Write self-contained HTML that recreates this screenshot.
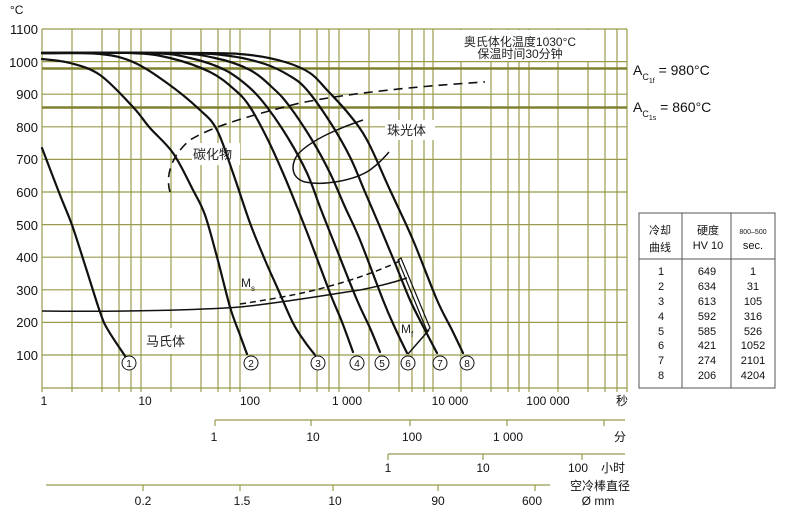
<!DOCTYPE html>
<html><head><meta charset="utf-8"><style>
html,body{margin:0;padding:0;background:#fff;}
svg{display:block;font-family:"Liberation Sans","Noto Sans CJK SC",sans-serif;}
</style></head><body>
<svg width="803" height="512" viewBox="0 0 803 512" xmlns="http://www.w3.org/2000/svg">
<g stroke="#999a4c" stroke-width="1.2">
<line x1="42" y1="29" x2="627" y2="29"/>
<line x1="42" y1="61.6" x2="627" y2="61.6"/>
<line x1="42" y1="94.2" x2="627" y2="94.2"/>
<line x1="42" y1="126.8" x2="627" y2="126.8"/>
<line x1="42" y1="159.4" x2="627" y2="159.4"/>
<line x1="42" y1="192" x2="627" y2="192"/>
<line x1="42" y1="224.6" x2="627" y2="224.6"/>
<line x1="42" y1="257.2" x2="627" y2="257.2"/>
<line x1="42" y1="289.8" x2="627" y2="289.8"/>
<line x1="42" y1="322.4" x2="627" y2="322.4"/>
<line x1="42" y1="355" x2="627" y2="355"/>
<line x1="42" y1="388" x2="627" y2="388"/>
<line x1="42" y1="29" x2="42" y2="392"/><line x1="72" y1="29" x2="72" y2="392"/><line x1="102" y1="29" x2="102" y2="392"/><line x1="119" y1="29" x2="119" y2="392"/><line x1="131" y1="29" x2="131" y2="392"/>
<line x1="141" y1="29" x2="141" y2="392"/><line x1="171" y1="29" x2="171" y2="392"/><line x1="201" y1="29" x2="201" y2="392"/><line x1="218" y1="29" x2="218" y2="392"/><line x1="230" y1="29" x2="230" y2="392"/>
<line x1="240" y1="29" x2="240" y2="392"/><line x1="270" y1="29" x2="270" y2="392"/><line x1="300" y1="29" x2="300" y2="392"/><line x1="317" y1="29" x2="317" y2="392"/><line x1="329" y1="29" x2="329" y2="392"/>
<line x1="339" y1="29" x2="339" y2="392"/><line x1="369" y1="29" x2="369" y2="392"/><line x1="399" y1="29" x2="399" y2="392"/><line x1="412" y1="29" x2="412" y2="392"/><line x1="424" y1="29" x2="424" y2="392"/>
<line x1="433" y1="29" x2="433" y2="392"/><line x1="461" y1="29" x2="461" y2="392"/><line x1="491" y1="29" x2="491" y2="392"/><line x1="508" y1="29" x2="508" y2="392"/><line x1="519" y1="29" x2="519" y2="392"/>
<line x1="529" y1="29" x2="529" y2="392"/><line x1="558" y1="29" x2="558" y2="392"/><line x1="588" y1="29" x2="588" y2="392"/><line x1="605" y1="29" x2="605" y2="392"/><line x1="617" y1="29" x2="617" y2="392"/><line x1="627" y1="29" x2="627" y2="392"/>
</g>
<g stroke="#7f8030" stroke-width="2.6">
<line x1="42" y1="68.5" x2="627" y2="68.5"/>
<line x1="42" y1="107.5" x2="627" y2="107.5"/>
</g>
<rect x="440" y="30" width="158" height="31" fill="#fff"/>
<rect x="144" y="328" width="56" height="26" fill="#fff"/>
<rect x="192" y="143" width="48" height="22" fill="#fff"/>
<rect x="385" y="120" width="50" height="20" fill="#fff"/>

<g font-size="13" fill="#111" text-anchor="end">
<text x="38" y="34">1100</text><text x="38" y="67">1000</text><text x="38" y="99">900</text>
<text x="38" y="132">800</text><text x="38" y="164">700</text><text x="38" y="197">600</text>
<text x="38" y="230">500</text><text x="38" y="262">400</text><text x="38" y="295">300</text>
<text x="38" y="327">200</text><text x="38" y="360">100</text>
</g>
<text x="10" y="14" font-size="12" fill="#111">°C</text>

<g fill="none" stroke="#111" stroke-width="2.2" stroke-linejoin="round" stroke-linecap="round">
<path class="sm" d="M42,148 L60,195 L72,225 L85,265 L100,312 L108,330 L125,356"/>
<path class="sm" d="M42,59 L70,63 L100,75 L133,107 L150,128 L173,153 L193,190 L205,215 L217,257 L230,307 L240,335 L247,354"/>
<path class="sm" d="M42,53 L100,54 L133,62 L167,83 L200,110 L217,130 L233,173 L250,223 L265,260 L277,287 L293,323 L305,342 L315,355"/>
<path class="sm" d="M42,53 L130,53 L170,58 L210,72 L235,90 L250,107 L267,138 L283,173 L297,207 L310,240 L330,293 L342,322 L353,352"/>
<path class="sm" d="M42,53 L150,53 L190,58 L225,70 L250,88 L267,107 L288,138 L307,173 L320,207 L333,240 L357,300 L370,328 L380,352"/>
<path class="sm" d="M42,53 L170,53 L215,58 L250,70 L275,90 L290,107 L312,140 L330,173 L345,207 L360,240 L383,300 L395,328 L407,353"/>
<path class="sm" d="M42,53 L180,53 L230,56 L265,64 L290,76 L307,90 L330,122 L350,157 L365,192 L380,227 L395,263 L410,300 L425,330 L437,353"/>
<path class="sm" d="M42,53 L200,53 L250,55 L285,62 L310,73 L327,90 L348,113 L367,140 L390,190 L413,240 L437,300 L452,330 L463,353"/>
</g>
<g fill="none" stroke="#111" stroke-width="1.5">
<path d="M42,311 C120,312 200,310 240,307 C280,303 320,296 360,290 C380,286 395,282 407,278"/>
<path d="M240,304 C280,298 310,292 330,286 C360,278 385,268 400,261" stroke-dasharray="6,4"/>
<path d="M398,260 L401,258 L430,328 L427,331 Z" stroke-width="1.2"/>
<path d="M429,330 L408,354"/>
<path d="M170,192 C165,175 172,155 190,140 C210,128 240,118 300,103 C350,93 420,86 485,82" stroke-dasharray="9,6" stroke-width="1.6"/>
<path d="M363,120 C340,128 315,138 300,152 C290,162 290,178 305,182 C325,186 355,180 370,170 C378,164 384,158 389,152" stroke-width="1.5"/>
</g>
<g fill="#fff" stroke="#111" stroke-width="1">
<circle cx="129" cy="363" r="7"/><circle cx="251" cy="363" r="7"/><circle cx="318" cy="363" r="7"/><circle cx="357" cy="363" r="7"/>
<circle cx="382" cy="363" r="7"/><circle cx="408" cy="363" r="7"/><circle cx="440" cy="363" r="7"/><circle cx="467" cy="363" r="7"/>
</g>
<g font-size="10" fill="#111" text-anchor="middle">
<text x="129" y="367">1</text><text x="251" y="367">2</text><text x="318" y="367">3</text><text x="357" y="367">4</text>
<text x="382" y="367">5</text><text x="408" y="367">6</text><text x="440" y="367">7</text><text x="467" y="367">8</text>
</g>
<g fill="#222" font-size="13">
<text x="193" y="159">碳化物</text>
<text x="387" y="135">珠光体</text>
<text x="146" y="346">马氏体</text>
<text x="241" y="287" font-size="12">M<tspan font-size="8" dy="4">s</tspan></text>
<text x="401" y="333" font-size="12">M<tspan font-size="8" dy="4">f</tspan></text>
</g>
<g fill="#222" font-size="12" text-anchor="middle">
<text x="520" y="46">奥氏体化温度1030°C</text>
<text x="520" y="58">保温时间30分钟</text>
</g>
<g fill="#111" font-size="14">
<text x="633" y="75">A<tspan font-size="9" dy="5">C</tspan><tspan font-size="7" dy="3">1f</tspan><tspan dy="-8"> = 980°C</tspan></text>
<text x="633" y="112">A<tspan font-size="9" dy="5">C</tspan><tspan font-size="7" dy="3">1s</tspan><tspan dy="-8"> = 860°C</tspan></text>
</g>
<g fill="none" stroke="#555" stroke-width="1">
<rect x="639" y="213" width="136" height="175"/>
<line x1="682" y1="213" x2="682" y2="388"/><line x1="731" y1="213" x2="731" y2="388"/>
<line x1="639" y1="259" x2="775" y2="259"/>
</g>
<g fill="#111" font-size="11" text-anchor="middle">
<text x="660" y="234">冷却</text><text x="660" y="251">曲线</text>
<text x="708" y="234">硬度</text><text x="708" y="249">HV 10</text>
<text x="753" y="234" font-size="7">800–500</text><text x="753" y="249">sec.</text>
<text x="661" y="275">1</text><text x="707" y="275">649</text><text x="753" y="275">1</text>
<text x="661" y="290">2</text><text x="707" y="290">634</text><text x="753" y="290">31</text>
<text x="661" y="305">3</text><text x="707" y="305">613</text><text x="753" y="305">105</text>
<text x="661" y="320">4</text><text x="707" y="320">592</text><text x="753" y="320">316</text>
<text x="661" y="335">5</text><text x="707" y="335">585</text><text x="753" y="335">526</text>
<text x="661" y="349">6</text><text x="707" y="349">421</text><text x="753" y="349">1052</text>
<text x="661" y="364">7</text><text x="707" y="364">274</text><text x="753" y="364">2101</text>
<text x="661" y="379">8</text><text x="707" y="379">206</text><text x="753" y="379">4204</text>
</g>
<g stroke="#999a4c" stroke-width="1.2">
<line x1="215" y1="420" x2="625" y2="420"/>
<line x1="215" y1="420" x2="215" y2="426"/><line x1="311" y1="420" x2="311" y2="426"/><line x1="410" y1="420" x2="410" y2="426"/><line x1="507" y1="420" x2="507" y2="426"/><line x1="604" y1="420" x2="604" y2="426"/>
<line x1="388" y1="454" x2="625" y2="454"/>
<line x1="388" y1="454" x2="388" y2="460"/><line x1="483" y1="454" x2="483" y2="460"/><line x1="582" y1="454" x2="582" y2="460"/>
<line x1="46" y1="485" x2="550" y2="485"/>
<line x1="143" y1="485" x2="143" y2="491"/><line x1="240" y1="485" x2="240" y2="491"/><line x1="333" y1="485" x2="333" y2="491"/><line x1="438" y1="485" x2="438" y2="491"/><line x1="535" y1="485" x2="535" y2="491"/>
</g>
<g fill="#111" font-size="12" text-anchor="middle">
<text x="44" y="405">1</text><text x="145" y="405">10</text><text x="250" y="405">100</text><text x="347" y="405">1 000</text><text x="450" y="405">10 000</text><text x="548" y="405">100 000</text><text x="622" y="405">秒</text>
<text x="214" y="441">1</text><text x="313" y="441">10</text><text x="412" y="441">100</text><text x="508" y="441">1 000</text><text x="620" y="441">分</text>
<text x="388" y="472">1</text><text x="483" y="472">10</text><text x="578" y="472">100</text><text x="613" y="472">小时</text>
<text x="143" y="505">0.2</text><text x="242" y="505">1.5</text><text x="335" y="505">10</text><text x="438" y="505">90</text><text x="532" y="505">600</text>
<text x="600" y="490">空冷棒直径</text><text x="598" y="505">Ø mm</text>
</g>
</svg>
<script>
document.querySelectorAll('path.sm').forEach(function(p){
  var pts=p.getAttribute('d').replace(/[ML]/g,' ').trim().split(/\s+/).map(function(s){return s.split(',').map(Number);});
  var d='M'+pts[0][0]+','+pts[0][1];
  for(var i=0;i<pts.length-1;i++){
    var p0=pts[i-1]||pts[i],p1=pts[i],p2=pts[i+1],p3=pts[i+2]||p2;
    var c1x=p1[0]+(p2[0]-p0[0])/6,c1y=p1[1]+(p2[1]-p0[1])/6;
    var c2x=p2[0]-(p3[0]-p1[0])/6,c2y=p2[1]-(p3[1]-p1[1])/6;
    d+=' C'+c1x.toFixed(1)+','+c1y.toFixed(1)+' '+c2x.toFixed(1)+','+c2y.toFixed(1)+' '+p2[0]+','+p2[1];
  }
  p.setAttribute('d',d);
});
</script>
</body></html>
